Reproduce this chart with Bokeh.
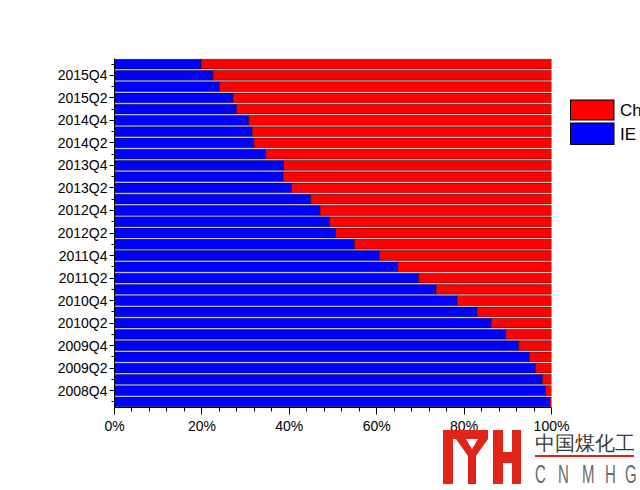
from bokeh.plotting import figure
from bokeh.models import (Range1d, FixedTicker, PrintfTickFormatter,
                          ColumnDataSource, GridBox, Div)
from bokeh.embed import file_html
from bokeh.resources import INLINE

# ---- data (bottom -> top) ----
quarters = ["2008Q3", "2008Q4",
            "2009Q1", "2009Q2", "2009Q3", "2009Q4",
            "2010Q1", "2010Q2", "2010Q3", "2010Q4",
            "2011Q1", "2011Q2", "2011Q3", "2011Q4",
            "2012Q1", "2012Q2", "2012Q3", "2012Q4",
            "2013Q1", "2013Q2", "2013Q3", "2013Q4",
            "2014Q1", "2014Q2", "2014Q3", "2014Q4",
            "2015Q1", "2015Q2", "2015Q3", "2015Q4",
            "2016Q1"]
ie_share = [99.6, 98.6, 97.9, 96.3, 94.9, 92.5, 89.5, 86.2, 83.0, 78.4,
            73.6, 69.6, 64.8, 60.6, 54.9, 50.6, 49.2, 47.0, 44.9, 40.5,
            38.6, 38.7, 34.6, 31.9, 31.5, 30.7, 27.9, 27.1, 24.0, 22.5, 19.8]
chrome_share = [0.4, 1.4, 2.1, 3.7, 5.1, 7.5, 10.5, 13.8, 17.0, 21.6,
                26.4, 30.4, 35.2, 39.4, 45.1, 49.4, 50.8, 53.0, 55.1, 59.5,
                61.4, 61.3, 65.4, 68.1, 68.5, 69.3, 72.1, 72.9, 76.0, 77.5, 80.2]
x_ticks = [0, 20, 40, 60, 80, 100]
x_minor = [v for v in range(0, 101, 4) if v not in x_ticks]
series = ["IE", "Chrome"]
colors = ["#0000FF", "#FF0000"]
legend_order = ["Chrome", "IE"]

FONT = "Liberation Sans"
W, H = 640, 490
FL, FT, FW, FH = 114, 58, 437, 349  # frame placement within figure

n = len(quarters)
p = figure(width=W, height=H, output_backend="svg", toolbar_location=None,
           x_range=Range1d(0, 100), y_range=Range1d(-0.5, n - 0.5),
           min_border_left=FL, min_border_right=W - FL - FW,
           min_border_top=FT, min_border_bottom=H - FT - FH)
p.outline_line_color = None
p.grid.visible = False
p.background_fill_color = "white"

src = ColumnDataSource(dict(y=list(range(n)), IE=ie_share, Chrome=chrome_share))
rends = p.hbar_stack(series, y="y", height=0.87, color=colors, source=src,
                     line_color="black", line_width=0.5)

# axes
major_y = [i for i, q in enumerate(quarters) if q.endswith(("Q2", "Q4"))]
minor_y = [i for i in range(n) if i not in major_y]
ya = p.yaxis[0]
ya.ticker = FixedTicker(ticks=major_y, minor_ticks=minor_y)
ya.major_label_overrides = {i: quarters[i] for i in major_y}
ya.axis_line_color = "black"
ya.major_tick_out = 5
ya.major_tick_in = 0
ya.minor_tick_out = 3
ya.minor_tick_in = 0
ya.major_label_standoff = 2
ya.major_label_text_font = FONT
ya.major_label_text_font_size = "14px"
ya.major_label_text_color = "black"

xa = p.xaxis[0]
xa.ticker = FixedTicker(ticks=x_ticks, minor_ticks=x_minor)
xa.formatter = PrintfTickFormatter(format="%d%%")
xa.axis_line_color = "black"
xa.major_tick_out = 7
xa.major_tick_in = 0
xa.minor_tick_out = 4
xa.minor_tick_in = 0
xa.major_label_standoff = 3
xa.major_label_text_font = FONT
xa.major_label_text_font_size = "14px"
xa.major_label_text_color = "black"

# ---- overlay (legend to the right of the plot area + watermark) ----
leg = ""
for k, name in enumerate(legend_order):
    c = colors[series.index(name)]
    top = 100 + 23 * k
    leg += ('<rect x="570.5" y="%g" width="43.5" height="%g" fill="%s" stroke="black" '
            'stroke-width="1"/>' % (top, 20 + 1.5 * k, c))
    leg += ('<text x="620" y="%g" font-family="Liberation Sans" font-size="17" '
            'fill="black">%s</text>' % (top + 15.5 + 1.5 * k, name))

RED = "#E2231A"
logo = [
    [(443, 430), (453, 430), (453, 484), (443, 484)],
    [(443, 430), (488, 430), (488, 439), (443, 439)],
    [(456, 439), (466, 439), (476, 456), (468, 456)],
    [(478, 439), (488, 439), (476, 456), (468, 456)],
    [(468, 455), (476, 455), (476, 484), (468, 484)],
    [(493, 430), (503, 430), (503, 484), (493, 484)],
    [(512, 430), (521, 430), (521, 484), (512, 484)],
    [(502, 452), (513, 452), (513, 463), (502, 463)],
    [(535, 455), (634, 455), (634, 457), (535, 457)],
]
polys = "".join('<polygon points="%s"/>' % " ".join("%g,%g" % pt for pt in s) for s in logo)
letters = "".join(
    '<text transform="translate(%d,483) scale(0.6,1)" font-family="Liberation Sans" '
    'font-size="25" fill="#6b6b6b">%s</text>' % (x, ch)
    for ch, x in zip("CNMHG", [535, 558, 582, 605, 625]))
svg = ('<svg xmlns="http://www.w3.org/2000/svg" width="%d" height="%d" '
       'style="position:absolute;left:0;top:0;pointer-events:none">' % (W, H)
       + leg
       + '<g fill="%s">%s</g>' % (RED, polys)
       + '<text x="535" y="450" font-family="Noto Sans CJK SC" font-size="20" '
         'fill="#3a3a3a">中国煤化工</text>'
       + letters + '</svg>')
overlay = Div(text=svg, width=W, height=H, margin=(0, 0, 0, 0))

grid = GridBox(children=[(p, 0, 0), (overlay, 0, 0)])
open("out.html", "w").write(file_html(grid, INLINE))
